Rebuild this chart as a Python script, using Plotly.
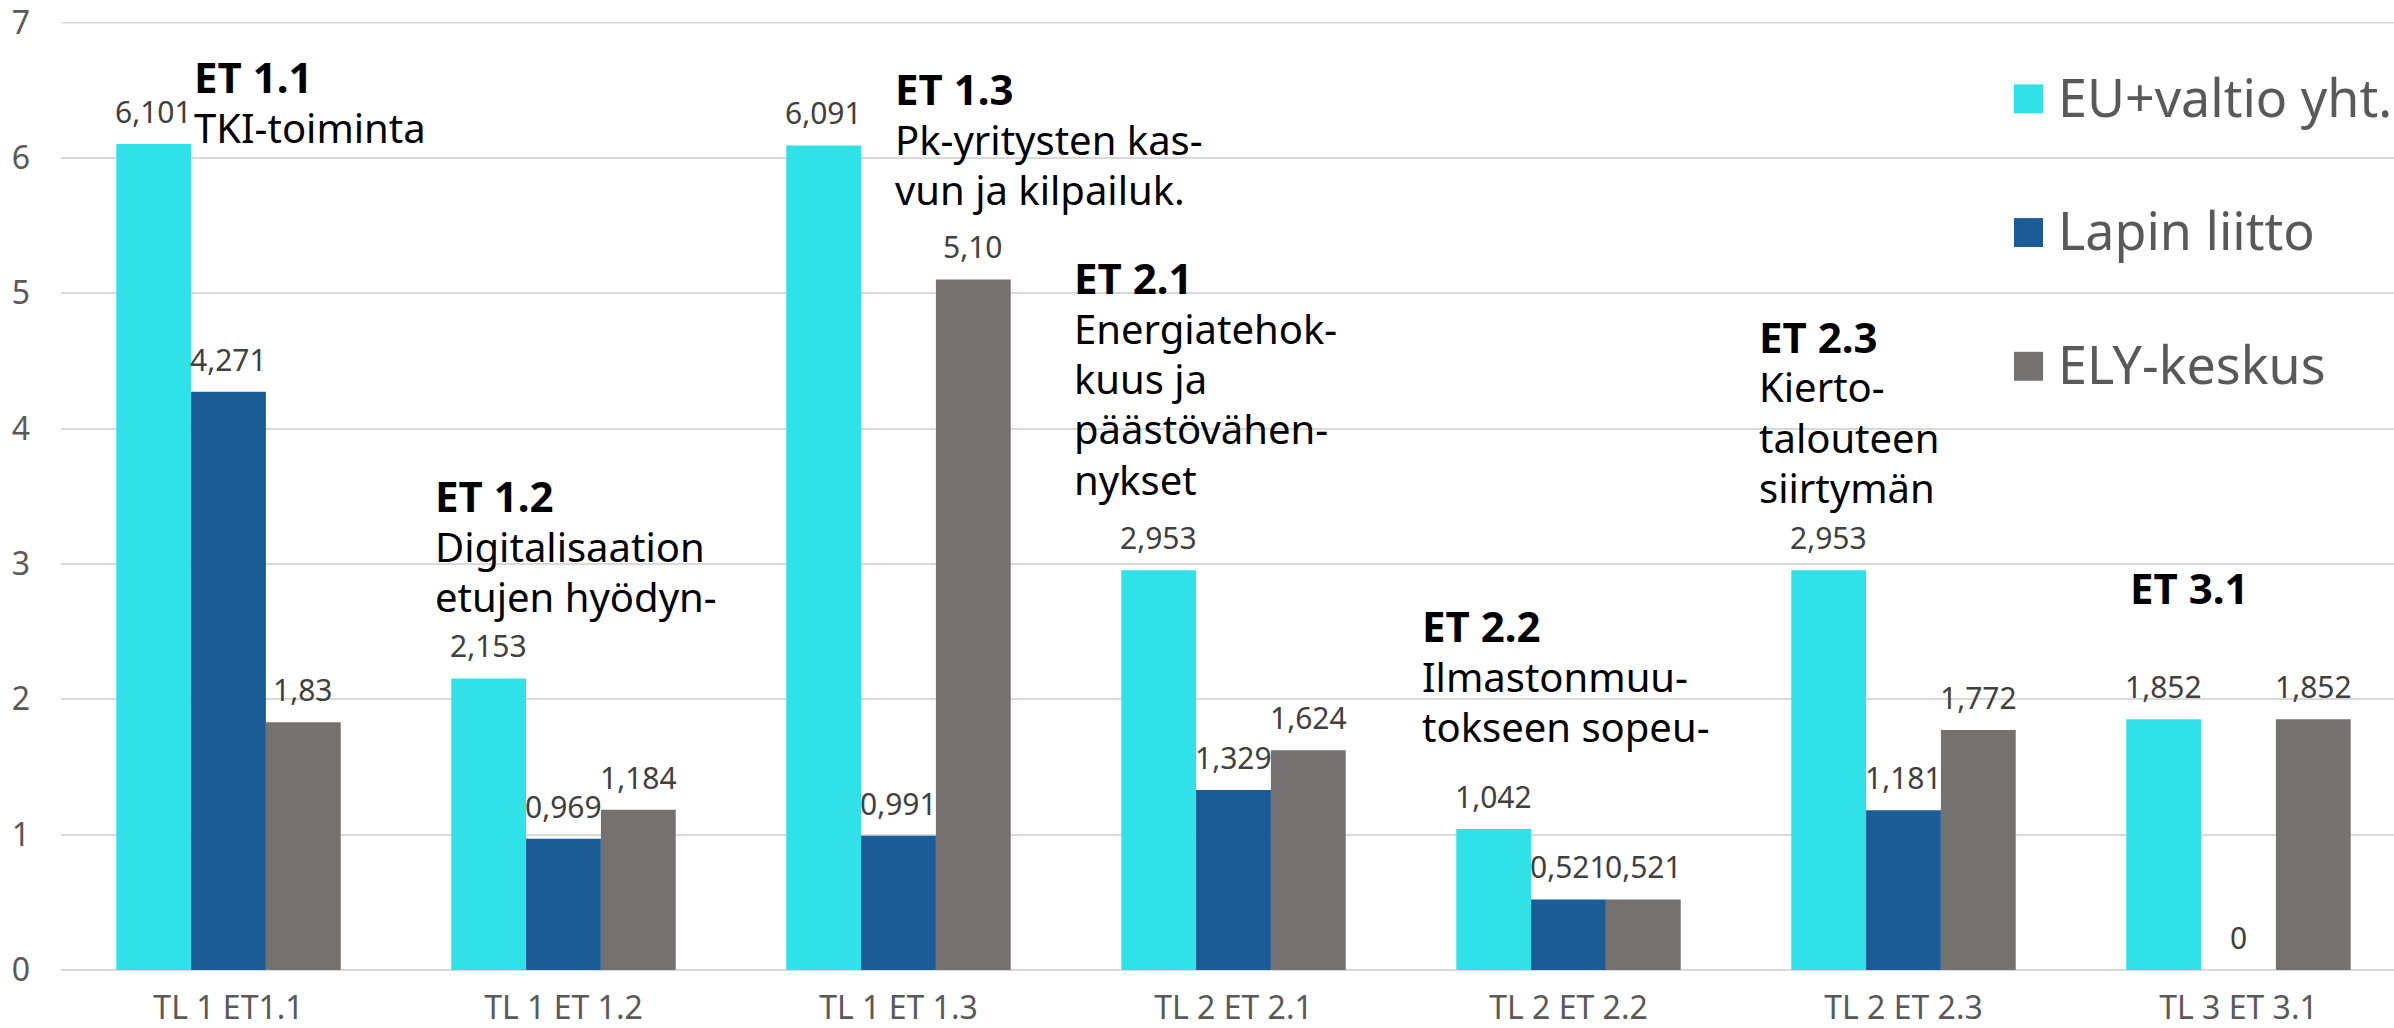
import plotly.graph_objects as go

# ---------------- data ----------------
categories = ["TL 1 ET1.1", "TL 1 ET 1.2", "TL 1 ET 1.3", "TL 2 ET 2.1",
              "TL 2 ET 2.2", "TL 2 ET 2.3", "TL 3 ET 3.1"]
series_names = ["EU+valtio yht.", "Lapin liitto", "ELY-keskus"]
eu_labels = ["6,101", "2,153", "6,091", "2,953", "1,042", "2,953", "1,852"]
lapin_labels = ["4,271", "0,969", "0,991", "1,329", "0,521", "1,181", "0"]
ely_labels = ["1,83", "1,184", "5,10", "1,624", "0,521", "1,772", "1,852"]
y_ticks = [0, 1, 2, 3, 4, 5, 6, 7]

# callout texts: (heading, lines)
callouts = [
    ("ET 1.1", ["TKI-toiminta"]),
    ("ET 1.2", ["Digitalisaation", "etujen hyödyn-"]),
    ("ET 1.3", ["Pk-yritysten kas-", "vun ja kilpailuk."]),
    ("ET 2.1", ["Energiatehok-", "kuus ja", "päästövähen-", "nykset"]),
    ("ET 2.2", ["Ilmastonmuu-", "tokseen sopeu-"]),
    ("ET 2.3", ["Kierto-", "talouteen", "siirtymän"]),
    ("ET 3.1", []),
]


def to_num(labels):
    return [float(s.replace(",", ".")) for s in labels]


series_labels = [eu_labels, lapin_labels, ely_labels]
series_values = [to_num(l) for l in series_labels]

# ---------------- style ----------------
colors = ["#30E2E8", "#1B5C96", "#767171"]
FONT = "Noto Sans, DejaVu Sans, sans-serif"
DESC = 0.293  # font descent (em)
W, H = 2394, 1028
PL, PR, PT, PB = 61, 2394, 21, 971
BARGAP = 0.33
CAT_PX = 335.0
BAR_PX = CAT_PX * (1 - BARGAP) / 3
GRID = "#D9D9D9"


def xp(px):
    return (px - PL) / (PR - PL)


def yp(py):
    return (PB - py) / (PB - PT)


fig = go.Figure()
for name, vals, col in zip(series_names, series_values, colors):
    fig.add_trace(go.Bar(x=categories, y=vals, name=name, marker_color=col,
                         marker_line_width=0, showlegend=False))

annotations = []
# value labels (baseline ~20px above bar end)
VS = 30
for j, (labs, vals) in enumerate(zip(series_labels, series_values)):
    for i, (lab, v) in enumerate(zip(labs, vals)):
        annotations.append(dict(
            x=i, y=v, xref="x", yref="y", text=lab, showarrow=False,
            xanchor="center", yanchor="bottom", xshift=(j - 1) * BAR_PX,
            yshift=20 - (DESC * VS + 1), font=dict(family=FONT, size=VS, color="#404040")))

# callout layout positions (left px, first baseline px)
callout_pos = [(197, 93), (438, 513), (898, 105), (1077, 294),
               (1425, 643), (1762, 353), (2133, 605)]
LINE = 50.5
CS = 40
HS = 42
for (head, lines), (lx, by) in zip(callouts, callout_pos):
    all_lines = [("<b>" + head + "</b>", HS)] + [(t, CS) for t in lines]
    for k, (t, fs) in enumerate(all_lines):
        base = by + k * LINE
        bottom = base + DESC * fs + 1
        annotations.append(dict(
            x=xp(lx - 5), y=yp(bottom), xref="paper", yref="paper", text=t,
            showarrow=False, xanchor="left", yanchor="bottom",
            font=dict(family=FONT, size=fs, color="#000000")))

# legend (drawn as shapes + text to match the large square keys)
shapes = [dict(type="line", xref="paper", yref="y", x0=0, x1=1, y0=y_ticks[-1], y1=y_ticks[-1],
               line=dict(color=GRID, width=2), layer="below")]
legend_centers = [98, 232, 366]
LS = 52
for name, col, cy in zip(series_names, colors, legend_centers):
    shapes.append(dict(type="rect", xref="paper", yref="paper",
                       x0=xp(2014), x1=xp(2043), y0=yp(cy + 14.5), y1=yp(cy - 14.5),
                       fillcolor=col, line_width=0))
    base = cy + 0.714 * LS / 2
    annotations.append(dict(x=xp(2056), y=yp(base + DESC * LS + 1), xref="paper", yref="paper",
                            text=name, showarrow=False, xanchor="left", yanchor="bottom",
                            font=dict(family=FONT, size=LS, color="#595959")))

fig.update_layout(
    width=W, height=H,
    margin=dict(l=PL, r=W - PR, t=PT, b=H - PB, pad=0),
    paper_bgcolor="white", plot_bgcolor="white",
    barmode="group", bargap=BARGAP, bargroupgap=0,
    font=dict(family=FONT, color="#595959"),
    xaxis=dict(type="category", range=[-0.5, -0.5 + (PR - PL) / CAT_PX],
               showgrid=False, showline=False, zeroline=False, ticks="",
               tickfont=dict(family=FONT, size=32, color="#595959"),
               ticklabelstandoff=16),
    yaxis=dict(range=[0, 7.003], tickvals=y_ticks, showgrid=True, gridcolor=GRID,
               gridwidth=2, zeroline=True, zerolinecolor=GRID, zerolinewidth=2,
               showline=False, ticks="", ticklabeloverflow="allow",
               tickfont=dict(family=FONT, size=32, color="#595959"),
               ticklabelstandoff=30),
    annotations=annotations, shapes=shapes,
)

fig.write_html("out.html", config={"displayModeBar": False},
               post_script="document.body.style.margin='0px';document.body.style.overflow='hidden';")
